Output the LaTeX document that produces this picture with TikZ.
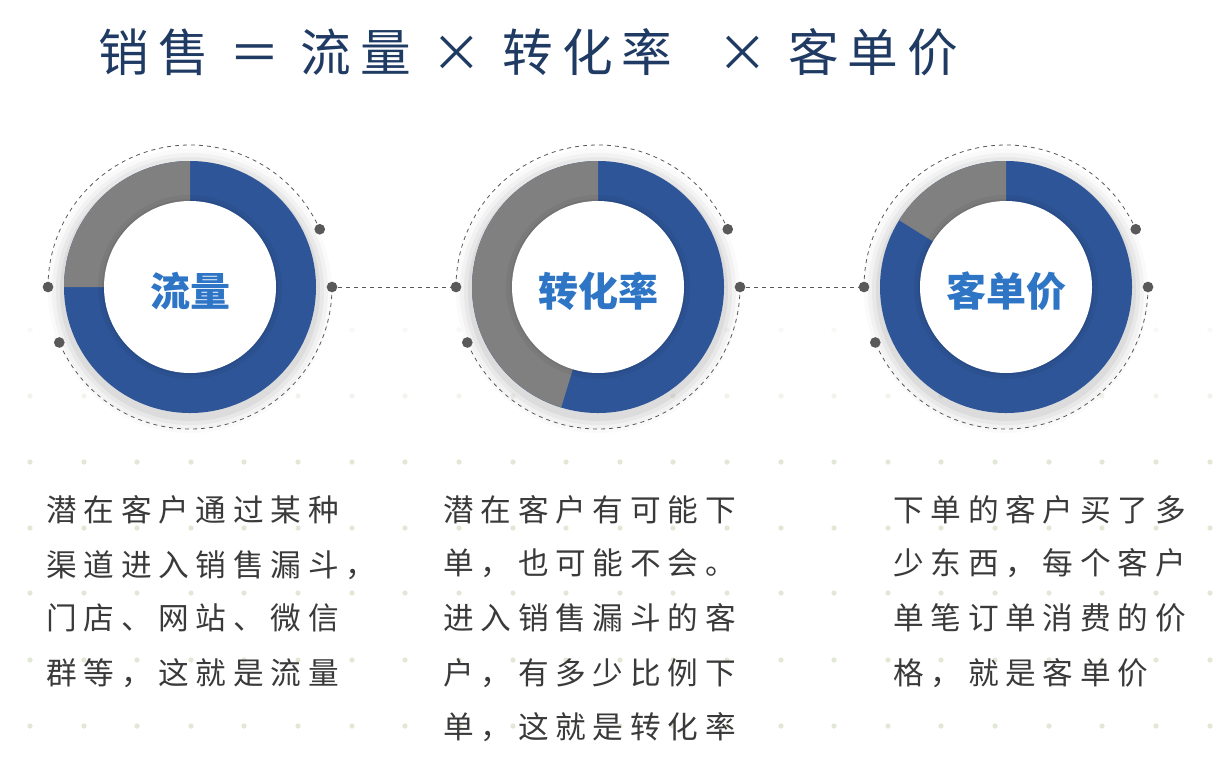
\documentclass[tikz,border=0pt]{standalone}
\usepackage{fontspec}
\newfontfamily\cjk{Noto Sans CJK SC}
\newfontfamily\cjkbody[LetterSpace=22]{Noto Sans CJK SC}
\newfontfamily\cjktitle[LetterSpace=18]{Noto Sans CJK SC}
\definecolor{ringblue}{HTML}{2E5597}
\definecolor{ringgray}{HTML}{808080}
\definecolor{labelblue}{HTML}{2E75C6}
\definecolor{titleblue}{HTML}{1F3A63}
\definecolor{textgray}{HTML}{3A3A3A}
\definecolor{dotcol}{HTML}{E2E8D6}
\definecolor{connector}{HTML}{595959}
\tikzset{
  body/.style={anchor=west,font=\cjkbody\fontsize{23}{23}\selectfont,text=textgray,inner sep=0pt},
  ringlabel/.style={font=\cjk\bfseries\fontsize{30}{30}\selectfont,text=labelblue},
  conn/.style={connector,dashed,line width=0.6pt},
  dotnode/.style={circle,fill=connector,minimum size=8pt,inner sep=0pt}
}
\begin{document}
\begin{tikzpicture}[x=0.75pt,y=-0.75pt]
\useasboundingbox (0,0) rectangle (1220,772);
\fill[white] (0,0) rectangle (1220,772);
% background dots
\foreach \yy/\op in {330/0.25,396/0.45,462/1,528/1,593/1,660/1,726/1}{
  \foreach \xx in {30,84,137,191,244,298,352,405,459,513,566,620,673,727,781,834,888,941,995,1049,1102,1156,1210}{
    \fill[dotcol,opacity=\op] (\xx,\yy) circle (2.6);
  }
}
% title
\node[anchor=west,font=\cjktitle\fontsize{38}{38}\selectfont,text=titleblue,inner sep=0pt] (title) at (98,52) {销售 ＝ 流量 × 转化率\hspace{18pt} × 客单价};
% rings
\foreach \cx/\g/\lab/\nm in {190/-180/流量/a,598/-253/转化率/b,1006/-148/客单价/c}{
  \begin{scope}[shift={(\cx,287)}]
    \foreach \r/\o in {142/0.02,138/0.03,134/0.04,130/0.05}{\fill[black,opacity=\o] (0,4) circle (\r);}
    \fill[ringblue] (0,0) circle (126);
    \fill[ringgray] (0,0) -- (-90:126) arc[start angle=-90,end angle=\g,radius=126] -- cycle;
    \foreach \r/\o in {88/0.04,84/0.05,80/0.06}{\fill[black,opacity=\o] (0,0) circle (\r+4);}
    \fill[white] (0,0) circle (86);
    \node[ringlabel] (\nm) at (0,4) {\lab};
    \draw[conn] (180:142) arc[start angle=180,end angle=336,radius=142];
    \draw[conn] (0:142) arc[start angle=0,end angle=157,radius=142];
    \node[dotnode] (\nm L) at (180:142) {};
    \node[dotnode] (\nm R) at (0:142) {};
    \node[dotnode] (\nm T) at (-24:142) {};
    \node[dotnode] (\nm B) at (157:142) {};
  \end{scope}
}
\draw[conn] (aR) -- (bL);
\draw[conn] (bR) -- (cL);
% texts
\node[body] (t1a) at (46,510) {潜在客户通过某种};
\node[body] (t1b) at (46,565) {渠道进入销售漏斗，};
\node[body] (t1c) at (46,618) {门店、网站、微信};
\node[body] (t1d) at (46,673) {群等，这就是流量};
\node[body] (t2a) at (443,510) {潜在客户有可能下};
\node[body] (t2b) at (443,563) {单，也可能不会。};
\node[body] (t2c) at (443,618) {进入销售漏斗的客};
\node[body] (t2d) at (443,673) {户，有多少比例下};
\node[body] (t2e) at (443,727) {单，这就是转化率};
\node[body] (t3a) at (893,510) {下单的客户买了多};
\node[body] (t3b) at (893,563) {少东西，每个客户};
\node[body] (t3c) at (893,618) {单笔订单消费的价};
\node[body] (t3d) at (893,673) {格，就是客单价};
\end{tikzpicture}
\end{document}
